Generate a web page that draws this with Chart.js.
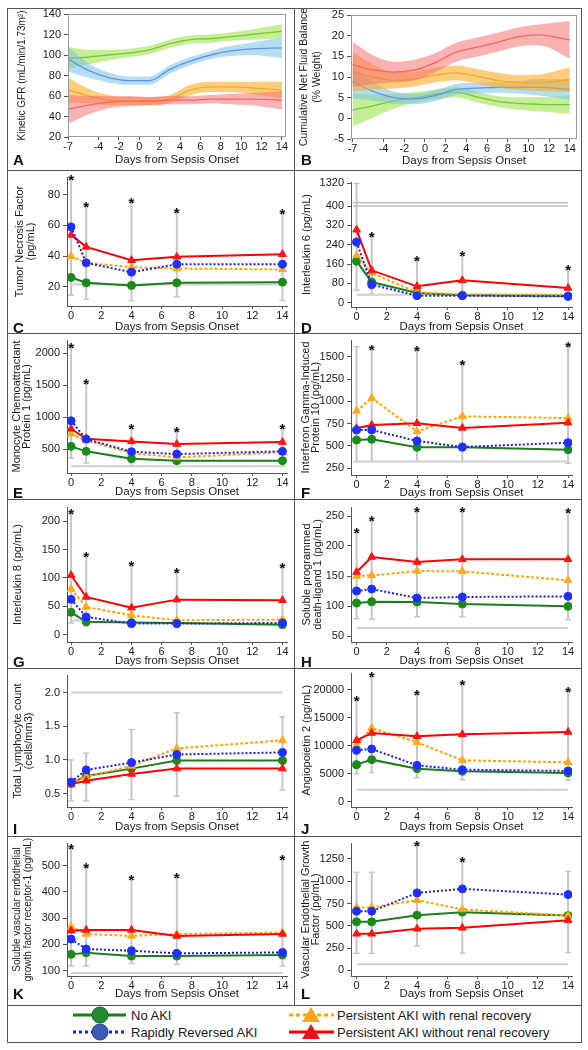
<!DOCTYPE html>
<html>
<head>
<meta charset="utf-8">
<script src="https://cdn.jsdelivr.net/npm/chart.js@4.4.0/dist/chart.umd.min.js"></script>
<style>
  body { margin: 0; background: #fff; font-family: "Liberation Sans", Arial, sans-serif; }
  #page { position: relative; width: 588px; height: 1050px; overflow: hidden; }
  .cell { position: absolute; }
  .cell canvas { position: absolute; left: 0; top: 0; }
  .line { position: absolute; background: #555; }
  .letter { position: absolute; font-weight: bold; font-size: 15px; line-height: 18px; color: #111; }
</style>
</head>
<body>
<div id="page">
  <svg id="legend" width="574" height="37" style="position:absolute;left:7px;top:1005px"
       font-family="Liberation Sans, Arial, sans-serif" font-size="13" fill="#1a1a1a">
    <line x1="66" y1="10" x2="119" y2="10" stroke="#1b7d1b" stroke-width="3"/>
    <circle cx="93" cy="10" r="8" fill="#1e8a34" stroke="#15692a" stroke-width="1"/>
    <text x="124" y="10" dominant-baseline="central">No AKI</text>
    <line x1="66" y1="27" x2="119" y2="27" stroke="#1a1aff" stroke-width="3" stroke-dasharray="3 3"/>
    <circle cx="93" cy="27" r="8" fill="#3a5bb8" stroke="#2a4494" stroke-width="1"/>
    <text x="124" y="27" dominant-baseline="central">Rapidly Reversed AKI</text>
    <line x1="282" y1="10" x2="327" y2="10" stroke="#ffa500" stroke-width="3" stroke-dasharray="4 3"/>
    <polygon points="304,2 295,17 313,17" fill="#f8a51c"/>
    <text x="330" y="10" dominant-baseline="central">Persistent AKI with renal recovery</text>
    <line x1="282" y1="27" x2="327" y2="27" stroke="#ff0000" stroke-width="3"/>
    <polygon points="304,19 295,34 313,34" fill="#e8141c"/>
    <text x="330" y="27" dominant-baseline="central">Persistent AKI without renal recovery</text>
  </svg>
</div>
<script>
// ---- panel A / B : smoothed trajectories with confidence bands ----
const bandDays = [-7, -5, -3, -1, 1, 3, 5, 7, 9, 11, 14];
const bandTicks = [-7, -4, -2, 0, 2, 4, 6, 8, 10, 12, 14];

const gfrNoAki = [97, 98, 100, 102, 105, 111, 115, 116, 118, 120, 123];
const gfrNoAkiLo = [86, 91, 95, 98, 101, 107, 111, 112, 114, 115, 116];
const gfrNoAkiHi = [108, 105, 105, 106, 109, 115, 119, 120, 122, 125, 130];
const gfrRapid = [96, 85, 78, 75, 75, 86, 94, 100, 104, 106, 107];
const gfrRapidLo = [84, 78, 73, 71, 71, 82, 90, 96, 99, 100, 97];
const gfrRapidHi = [108, 92, 83, 79, 79, 90, 98, 104, 109, 112, 117];
const gfrRecov = [66, 60, 56, 55, 55, 57, 66, 69, 69, 68, 66];
const gfrRecovLo = [54, 53, 51, 51, 51, 53, 61, 64, 64, 62, 58];
const gfrRecovHi = [78, 67, 61, 59, 59, 61, 71, 74, 74, 74, 74];
const gfrNoRecov = [47, 51, 54, 55, 55, 56, 56, 57, 57, 57, 56];
const gfrNoRecovLo = [33, 42, 48, 50, 51, 52, 52, 53, 52, 51, 47];
const gfrNoRecovHi = [61, 60, 60, 60, 59, 60, 60, 61, 62, 63, 65];

const fluidNoAki = [2, 3, 4.2, 5, 5.8, 6.3, 5.2, 4.1, 3.6, 3.4, 3.3];
const fluidNoAkiLo = [-2, 0.2, 2.4, 3.7, 4.6, 5.1, 3.9, 2.8, 2.1, 1.7, 1.1];
const fluidNoAkiHi = [6, 5.8, 6, 6.3, 7, 7.5, 6.5, 5.4, 5.1, 5.1, 5.5];
const fluidRapid = [8.8, 6.5, 5, 4.7, 5.5, 7, 7.3, 7.5, 7.5, 7.5, 7];
const fluidRapidLo = [4.8, 4.3, 3.5, 3.4, 4.2, 5.7, 6, 6.2, 6, 5.5, 4.5];
const fluidRapidHi = [12.8, 8.7, 6.5, 6, 6.8, 8.3, 8.6, 8.8, 9, 9.5, 9.5];
const fluidRecov = [11.2, 10, 9.2, 9.5, 10.5, 11, 10.2, 9.2, 8.7, 8.6, 9.4];
const fluidRecovLo = [6.5, 7, 7.2, 7.7, 8.7, 9.2, 8.4, 7.4, 6.9, 6.6, 6.4];
const fluidRecovHi = [15.9, 13, 11.2, 11.3, 12.3, 12.8, 12, 11, 10.5, 10.6, 12.4];
const fluidNoRecov = [13, 11.7, 11.2, 11.7, 13.5, 16, 17.2, 18.4, 19.7, 20.2, 19];
const fluidNoRecovLo = [7.5, 8.3, 8.7, 9.2, 11.2, 13.7, 14.9, 16.1, 17.4, 17.7, 14.5];
const fluidNoRecovHi = [18.5, 15.2, 13.7, 14.2, 15.8, 18.3, 19.5, 20.7, 22, 22.7, 23.5];

// ---- panels C..L : biomarker medians by group ----
const days = [0, 1, 4, 7, 14];
const dayTicks = [0, 2, 4, 6, 8, 10, 12, 14];

const tnfNoAki = [26.1, 22.6, 20.9, 22.6, 23.0];
const tnfRapid = [59, 35.6, 29.5, 34.7, 34.7];
const tnfRecov = [39.9, 35.6, 32.8, 31.9, 31.3];
const tnfNoRecov = [53.8, 46, 37.3, 39.5, 41.2];
const tnfErrLo = [14.6, 11.8, 11, 13.5, 11];
const tnfErrHi = [90.4, 73, 75.2, 68.7, 68.3];
const tnfStars = [1, 1, 1, 1, 1];

const il6NoAki = [172, 85.5, 40, 30.3, 27.6];
const il6Rapid = [251, 74.5, 29, 29, 26];
const il6Recov = [196, 122.7, 42.8, 34.5, 31.7];
const il6NoRecov = [302, 134, 67.6, 92.4, 60.7];
const il6ErrLo = [51, 34.5, 23, 23, 23];
const il6ErrHi = [1320, 278.6, 179, 196, 140];
const il6Stars = [0, 1, 1, 1, 1];
const il6Ticks = [0, 80, 160, 240, 320, 400, 1320];

const mcpNoAki = [542, 464, 349, 318, 318];
const mcpRapid = [943, 656, 458, 422, 464];
const mcpRecov = [740, 635, 437, 370, 448];
const mcpNoRecov = [818, 661, 620, 578, 609];
const mcpErrLo = [359, 281, 229, 229, 229];
const mcpErrHi = [2104, 1531, 828, 792, 828];
const mcpStars = [1, 1, 1, 1, 1];

const ip10NoAki = [567, 575, 485, 485, 459];
const ip10Rapid = [679, 679, 556, 489, 537];
const ip10Recov = [892, 1037, 664, 832, 813];
const ip10NoRecov = [698, 735, 754, 702, 761];
const ip10ErrLo = [325, 325, 325, 325, 306];
const ip10ErrHi = [1612, 1593, 1575, 1425, 1623];
const ip10Stars = [0, 1, 1, 1, 1];

const il8NoAki = [39.4, 22.9, 21.2, 20.6, 17.6];
const il8Rapid = [62.3, 31.2, 19.4, 19.4, 20.6];
const il8Recov = [80.6, 48.8, 34, 25.3, 26.5];
const il8NoRecov = [104.7, 66.4, 47.6, 61.7, 60.6];
const il8ErrLo = [20.6, 14.7, 13.5, 12.4, 13.5];
const il8ErrHi = [214.6, 139, 123.5, 110.5, 119.4];
const il8Stars = [1, 1, 1, 1, 1];

const pdl1NoAki = [105, 107.2, 106.7, 103.3, 99.4];
const pdl1Rapid = [125, 128.3, 113.3, 115, 116.1];
const pdl1Recov = [150, 151, 158.3, 157.8, 142.8];
const pdl1NoRecov = [156.7, 181.7, 173.3, 177.8, 177.8];
const pdl1ErrLo = [79, 78, 82, 82, 77];
const pdl1ErrHi = [223, 244, 258, 258, 256.7];
const pdl1Stars = [1, 1, 1, 1, 1];

const lymNoAki = [0.65, 0.76, 0.87, 0.99, 0.99];
const lymRapid = [0.67, 0.85, 0.96, 1.08, 1.11];
const lymRecov = [0.66, 0.75, 0.91, 1.17, 1.29];
const lymNoRecov = [0.64, 0.69, 0.79, 0.87, 0.87];
const lymErrLo = [0.39, 0.39, 0.41, 0.46, 0.55];
const lymErrHi = [1.0, 1.10, 1.45, 1.70, 1.64];
const lymStars = [0, 0, 0, 0, 0];

const ang2NoAki = [6640, 7530, 5930, 5455, 5160];
const ang2Rapid = [9190, 9430, 6520, 5750, 5515];
const ang2Recov = [10080, 13165, 10615, 7410, 7060];
const ang2NoRecov = [10970, 12275, 11680, 12040, 12450];
const ang2ErrLo = [5040, 5220, 4330, 3970, 3850];
const ang2ErrHi = [18200, 22350, 19150, 21050, 19750];
const ang2Stars = [1, 1, 1, 1, 1];

const vegfr1NoAki = [161.6, 168, 155, 155, 159];
const vegfr1Rapid = [220, 182, 175.6, 165.5, 169];
const vegfr1Recov = [267.6, 239.5, 232, 239.5, 244.6];
const vegfr1NoRecov = [252, 255, 255, 232, 239.5];
const vegfr1ErrLo = [117, 117, 127, 123, 117];
const vegfr1ErrHi = [567.7, 497, 449, 456.6, 525.5];
const vegfr1Stars = [1, 1, 1, 1, 1];

const vegfNoAki = [544, 544, 619, 653, 615];
const vegfRapid = [664, 664, 869, 914, 850];
const vegfRecov = [705, 705, 787, 683, 615];
const vegfNoRecov = [410, 410, 466, 477, 563];
const vegfErrLo = [190, 190, 272, 190, 198];
const vegfErrHi = [1100, 1100, 1410, 1223, 1111];
const vegfStars = [0, 0, 1, 1, 0];

Chart.defaults.font.family = '"Liberation Sans", Arial, sans-serif';
Chart.defaults.color = '#1a1a1a';

const rowEdges = [8, 170, 333, 499, 668, 836, 1005];
const colEdges = [7, 294];
const colW = 287;
const page = document.getElementById('page');

const groups = {
  noAki:   { label: 'No AKI', color: '#1b7d1b', point: '#1a8a1a', style: 'circle', dash: [] },
  rapid:   { label: 'Rapidly Reversed AKI', color: '#1a1aff', point: '#1f2fff', style: 'circle', dash: [2, 2] },
  recov:   { label: 'Persistent AKI with renal recovery', color: '#ffa500', point: '#ffaa1a', style: 'triangle', dash: [3, 2] },
  noRecov: { label: 'Persistent AKI without renal recovery', color: '#ff0000', point: '#ff1414', style: 'triangle', dash: [] }
};

// the IL-6 axis is broken above 400: values there are squeezed into the top strip
function il6Break(v) {
  return v <= 400 ? v : 400 + (v - 400) / (1320 - 400) * 94;
}

function makeCell(col, row) {
  const top = rowEdges[row], h = rowEdges[row + 1] - top;
  const div = document.createElement('div');
  div.className = 'cell';
  div.style.left = colEdges[col] + 'px';
  div.style.top = top + 'px';
  div.style.width = colW + 'px';
  div.style.height = h + 'px';
  const canvas = document.createElement('canvas');
  canvas.width = colW;
  canvas.height = h;
  div.appendChild(canvas);
  page.appendChild(div);
  return { canvas, h };
}

function seriesSet(vals, g) {
  return {
    label: g.label,
    data: days.map((d, i) => ({ x: d, y: vals[i] })),
    borderColor: g.color,
    backgroundColor: g.point,
    borderWidth: 2,
    borderDash: g.dash,
    pointStyle: g.style,
    pointRadius: g.style === 'circle' ? 4 : 4.5,
    pointBackgroundColor: g.point,
    pointBorderColor: g.point,
    pointBorderWidth: 1,
    tension: 0
  };
}

function errBars(lo, hi, stars, map) {
  map = map || (v => v);
  return {
    id: 'errBars',
    beforeDatasetsDraw(chart) {
      const { ctx } = chart, x = chart.scales.x, y = chart.scales.y;
      ctx.save();
      ctx.strokeStyle = '#c6c6c6';
      lo.forEach((l, i) => {
        const px = x.getPixelForValue(days[i]);
        const top = y.getPixelForValue(map(hi[i]));
        const bot = y.getPixelForValue(map(l));
        ctx.lineWidth = 2;
        ctx.beginPath(); ctx.moveTo(px, top); ctx.lineTo(px, bot); ctx.stroke();
        ctx.lineWidth = 1.5;
        [top, bot].forEach(py => {
          ctx.beginPath(); ctx.moveTo(px - 3, py); ctx.lineTo(px + 3, py); ctx.stroke();
        });
        if (stars[i]) {
          ctx.fillStyle = '#111';
          ctx.font = 'bold 15px "Liberation Sans", Arial';
          ctx.textAlign = 'center';
          ctx.textBaseline = 'middle';
          ctx.fillText('*', px, top + 2);
        }
      });
      ctx.restore();
    }
  };
}

const il6BreakLines = {
  id: 'il6Break',
  beforeDatasetsDraw(chart) {
    const { ctx, chartArea: a } = chart, y = chart.scales.y;
    ctx.save();
    ctx.strokeStyle = '#bdbdbd';
    ctx.lineWidth = 1.5;
    [401, 414].forEach(v => {
      const py = y.getPixelForValue(v);
      ctx.beginPath(); ctx.moveTo(a.left + 2, py); ctx.lineTo(a.right - 4, py); ctx.stroke();
    });
    ctx.restore();
  }
};

const boxFrame = {
  id: 'boxFrame',
  afterDatasetsDraw(chart) {
    const a = chart.chartArea, ctx = chart.ctx;
    ctx.save();
    ctx.strokeStyle = '#9a9a9a';
    ctx.lineWidth = 1;
    ctx.strokeRect(a.left + 0.5, a.top + 0.5, a.right - a.left - 1, a.bottom - a.top - 1);
    ctx.restore();
  }
};

function xScale(min, max, ticks, height, titlePad, axisLine) {
  return {
    type: 'linear', min, max,
    afterBuildTicks: s => { s.ticks = ticks.map(v => ({ value: v })); },
    afterFit: s => { s.height = height; s.paddingLeft = 0; s.paddingRight = 0; },
    ticks: { font: { size: 11 }, padding: 0, maxRotation: 0, autoSkip: false, callback: v => String(v) },
    grid: { display: true, drawOnChartArea: false, tickLength: 3, color: '#555' },
    border: { display: axisLine, color: '#555' },
    title: { display: true, text: 'Days from Sepsis Onset', font: { size: 11.5, lineHeight: 1 },
             padding: { top: 0, bottom: titlePad } }
  };
}

function yScale(p, width, axisLine) {
  return {
    type: 'linear', min: p.yMin, max: p.yMax,
    afterBuildTicks: s => { s.ticks = p.yTicks.map(v => ({ value: p.map ? p.map(v) : v })); },
    afterFit: s => { s.width = width; s.paddingTop = 0; s.paddingBottom = 0; },
    ticks: { font: { size: 11 }, padding: 3, callback: p.fmt || (v => String(v)) },
    grid: { display: true, drawOnChartArea: false, tickLength: 4, color: '#555' },
    border: { display: axisLine, color: '#555' },
    title: { display: true, text: p.title, font: { size: p.titleSize || 11, lineHeight: p.titleLh || 0.95 },
             padding: { top: p.tPad, bottom: 0 } }
  };
}

function panel(col, row, p) {
  const { canvas, h } = makeCell(col, row);
  const left = col === 0;
  const xMin = left ? -0.27 : -0.37, xMax = left ? 14.3 : 14.26;
  const datasets = [
    seriesSet(p.rapid, groups.rapid),
    seriesSet(p.noRecov, groups.noRecov),
    seriesSet(p.recov, groups.recov),
    seriesSet(p.noAki, groups.noAki),
    { data: [{ x: p.refFrom || 0, y: p.ref }, { x: p.refTo || 14, y: p.ref }],
      borderColor: '#d0d0d0', borderWidth: 2, pointRadius: 0 }
  ];
  const plugins = [errBars(p.errLo, p.errHi, p.stars, p.map)];
  if (p.extra) plugins.push(p.extra);
  new Chart(canvas, {
    type: 'line',
    data: { datasets },
    options: {
      responsive: false, animation: false, events: [],
      layout: { padding: { left: 0, right: left ? 7 : 9, top: p.top, bottom: 0 } },
      plugins: { legend: { display: false }, tooltip: { enabled: false } },
      scales: {
        x: xScale(xMin, xMax, dayTicks, h - p.bottom, p.titlePad || 0, true),
        y: yScale(p, left ? 60 : 57, true)
      }
    },
    plugins
  });
}

function bandSets(mid, lo, hi, line, fill) {
  const pts = arr => bandDays.map((d, i) => ({ x: d, y: arr[i] }));
  const common = { pointRadius: 0, cubicInterpolationMode: 'monotone' };
  return [
    { ...common, data: pts(hi), borderWidth: 0, borderColor: 'rgba(0,0,0,0)', fill: false },
    { ...common, data: pts(lo), borderWidth: 0, borderColor: 'rgba(0,0,0,0)', fill: '-1', backgroundColor: fill },
    { ...common, data: pts(mid), borderColor: line, borderWidth: 1.3, fill: false }
  ];
}

function bandPanel(col, p, sets) {
  const { canvas, h } = makeCell(col, 0);
  new Chart(canvas, {
    type: 'line',
    data: { datasets: sets },
    options: {
      responsive: false, animation: false, events: [],
      layout: { padding: { left: 0, right: p.right, top: p.top, bottom: 0 } },
      plugins: { legend: { display: false }, tooltip: { enabled: false } },
      scales: {
        x: xScale(p.xMin, p.xMax, bandTicks, h - p.bottom, p.titlePad, false),
        y: yScale(p, p.yw, false)
      }
    },
    plugins: [boxFrame]
  });
}

const bandColors = {
  noAki: ['#5f9e3a', 'rgba(150,225,60,0.55)'],
  rapid: ['#4a5ae8', 'rgba(120,195,232,0.55)'],
  recov: ['#f5a33a', 'rgba(250,170,30,0.58)'],
  noRecov: ['#f25a5a', 'rgba(245,115,115,0.55)']
};

bandPanel(0, {
  title: 'Kinetic GFR (mL/min/1.73m\u00b2)', titleSize: 10, titleLh: 1, tPad: 10,
  yMin: 20, yMax: 140, yTicks: [20, 40, 60, 80, 100, 120, 140],
  xMin: -7, xMax: 14.4, yw: 61, right: 8, top: 6, bottom: 129, titlePad: 4
}, [
  ...bandSets(gfrNoRecov, gfrNoRecovLo, gfrNoRecovHi, ...bandColors.noRecov),
  ...bandSets(gfrRecov, gfrRecovLo, gfrRecovHi, ...bandColors.recov),
  ...bandSets(gfrRapid, gfrRapidLo, gfrRapidHi, ...bandColors.rapid),
  ...bandSets(gfrNoAki, gfrNoAkiLo, gfrNoAkiHi, ...bandColors.noAki)
]);

bandPanel(1, {
  title: ['Cumulative Net Fluid Balance', '(% Weight)'], titleSize: 10.5, titleLh: 1.3, tPad: 3,
  yMin: -5, yMax: 25, yTicks: [-5, 0, 5, 10, 15, 20, 25],
  xMin: -7.15, xMax: 14.7, yw: 57, right: 4, top: 7, bottom: 131, titlePad: 3
}, [
  ...bandSets(fluidNoRecov, fluidNoRecovLo, fluidNoRecovHi, ...bandColors.noRecov),
  ...bandSets(fluidRecov, fluidRecovLo, fluidRecovHi, ...bandColors.recov),
  ...bandSets(fluidRapid, fluidRapidLo, fluidRapidHi, ...bandColors.rapid),
  ...bandSets(fluidNoAki, fluidNoAkiLo, fluidNoAkiHi, ...bandColors.noAki)
]);

panel(0, 1, {
  title: ['Tumor Necrosis Factor', '(pg/mL)'], tPad: 8,
  yMin: 7.5, yMax: 91.5, yTicks: [20, 40, 60, 80], top: 7, bottom: 136,
  noAki: tnfNoAki, rapid: tnfRapid, recov: tnfRecov, noRecov: tnfNoRecov,
  errLo: tnfErrLo, errHi: tnfErrHi, stars: tnfStars, ref: 21.5
});

panel(1, 1, {
  title: 'Interleukin 6 (pg/mL)', tPad: 8,
  yMin: -18, yMax: 500, yTicks: il6Ticks, map: il6Break,
  fmt: v => (v > 400 ? '1320' : String(v)), top: 12, bottom: 137,
  noAki: il6NoAki, rapid: il6Rapid, recov: il6Recov, noRecov: il6NoRecov,
  errLo: il6ErrLo, errHi: il6ErrHi, stars: il6Stars, ref: 33, extra: il6BreakLines
});

panel(0, 2, {
  title: ['Monocyte Chemoattractant', 'Protein 1 (pg/mL)'], tPad: 4.5,
  yMin: 125, yMax: 2208, yTicks: [500, 1000, 1500, 2000], top: 7, bottom: 140, titlePad: 1,
  noAki: mcpNoAki, rapid: mcpRapid, recov: mcpRecov, noRecov: mcpNoRecov,
  errLo: mcpErrLo, errHi: mcpErrHi, stars: mcpStars, ref: 229
});

panel(1, 2, {
  title: ['Interferon Gamma-Induced', 'Protein 10 (pg/mL)'], tPad: 6.5,
  yMin: 175, yMax: 1687, yTicks: [250, 500, 750, 1000, 1250, 1500], top: 7, bottom: 142, titlePad: 0,
  noAki: ip10NoAki, rapid: ip10Rapid, recov: ip10Recov, noRecov: ip10NoRecov,
  errLo: ip10ErrLo, errHi: ip10ErrHi, stars: ip10Stars, ref: 325
});

panel(0, 3, {
  title: 'Interleukin 8 (pg/mL)', tPad: 6,
  yMin: -13, yMax: 225, yTicks: [0, 50, 100, 150, 200], top: 8, bottom: 143, titlePad: 1,
  noAki: il8NoAki, rapid: il8Rapid, recov: il8Recov, noRecov: il8NoRecov,
  errLo: il8ErrLo, errHi: il8ErrHi, stars: il8Stars, ref: 25, refTo: 1
});

panel(1, 3, {
  title: ['Soluble programmed', 'death-ligand 1 (pg/mL)'], tPad: 8,
  yMin: 40, yMax: 265, yTicks: [50, 100, 150, 200, 250], top: 8, bottom: 143, titlePad: 1,
  noAki: pdl1NoAki, rapid: pdl1Rapid, recov: pdl1Recov, noRecov: pdl1NoRecov,
  errLo: pdl1ErrLo, errHi: pdl1ErrHi, stars: pdl1Stars, ref: 63.3
});

panel(0, 4, {
  title: ['Total Lymphocyte count', '(cells/mm3)'], tPad: 6,
  yMin: 0.30, yMax: 2.26, yTicks: [0.5, 1.0, 1.5, 2.0], fmt: v => v.toFixed(1),
  top: 7, bottom: 139, titlePad: 3,
  noAki: lymNoAki, rapid: lymRapid, recov: lymRecov, noRecov: lymNoRecov,
  errLo: lymErrLo, errHi: lymErrHi, stars: lymStars, ref: 2.0
});

panel(1, 4, {
  title: 'Angiopoietin 2 (pg/mL)', tPad: 8,
  yMin: -890, yMax: 22850, yTicks: [0, 5000, 10000, 15000, 20000], top: 5, bottom: 139, titlePad: 3,
  noAki: ang2NoAki, rapid: ang2Rapid, recov: ang2Recov, noRecov: ang2NoRecov,
  errLo: ang2ErrLo, errHi: ang2ErrHi, stars: ang2Stars, ref: 2190
});

panel(0, 5, {
  title: ['Soluble vascular endothelial', 'growth factor receptor-1 (pg/mL)'], tPad: 5,
  titleSize: 10, titleLh: 1.05,
  yMin: 79, yMax: 587, yTicks: [100, 200, 300, 400, 500], top: 7, bottom: 140, titlePad: 5,
  noAki: vegfr1NoAki, rapid: vegfr1Rapid, recov: vegfr1Recov, noRecov: vegfr1NoRecov,
  errLo: vegfr1ErrLo, errHi: vegfr1ErrHi, stars: vegfr1Stars, ref: 90
});

panel(1, 5, {
  title: ['Vascular Endothelial Growth', 'Factor (pg/mL)'], tPad: 6.5,
  yMin: -64, yMax: 1429, yTicks: [0, 250, 500, 750, 1000, 1250], top: 7, bottom: 140, titlePad: 5,
  noAki: vegfNoAki, rapid: vegfRapid, recov: vegfRecov, noRecov: vegfNoRecov,
  errLo: vegfErrLo, errHi: vegfErrHi, stars: vegfStars, ref: 67
});

// frame lines and panel letters
function addLine(x, y, w, h) {
  const d = document.createElement('div');
  d.className = 'line';
  Object.assign(d.style, { left: x + 'px', top: y + 'px', width: w + 'px', height: h + 'px' });
  page.appendChild(d);
}
addLine(7, 8, 575, 1);
addLine(7, 1042, 575, 1);
addLine(7, 8, 1, 1035);
addLine(581, 8, 1, 1035);
addLine(294, 8, 1, 997);
rowEdges.slice(1).forEach(y => addLine(7, y, 575, 1));

const letters = ['A', 'B', 'C', 'D', 'E', 'F', 'G', 'H', 'I', 'J', 'K', 'L'];
const letterY = [151, 319, 484, 653, 820, 985];
letters.forEach((t, i) => {
  const d = document.createElement('div');
  d.className = 'letter';
  d.textContent = t;
  d.style.left = (i % 2 === 0 ? 13 : 301) + 'px';
  d.style.top = letterY[Math.floor(i / 2)] + 'px';
  page.appendChild(d);
});
</script>
</body>
</html>
